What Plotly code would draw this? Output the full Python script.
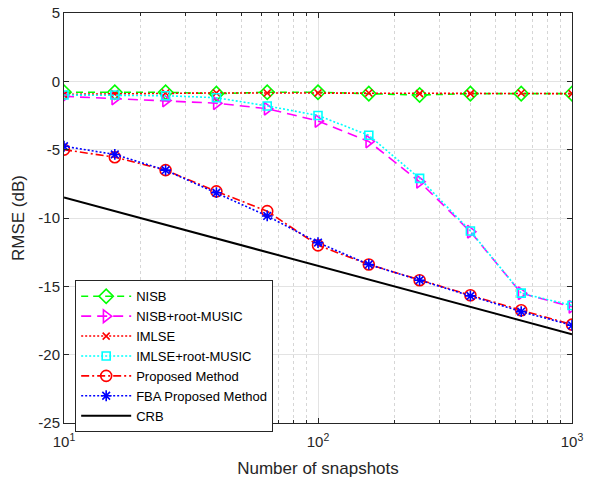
import plotly.graph_objects as go

snapshots = [10, 15.85, 25.12, 39.81, 63.1, 100, 158.5, 251.2, 398.1, 631, 1000]

nisb = [-0.8, -0.8, -0.8, -0.9, -0.8, -0.8, -0.9, -1.0, -0.9, -0.9, -0.9]
nisb_music = [-1.1, -1.25, -1.4, -1.6, -2.0, -2.9, -4.4, -7.35, -11.0, -15.5, -16.5]
imlse = [-0.95, -0.9, -0.85, -0.85, -0.85, -0.85, -0.85, -0.9, -0.9, -0.85, -0.9]
imlse_music = [-1.0, -1.0, -1.05, -1.2, -1.8, -2.5, -3.95, -7.1, -10.95, -15.5, -16.4]
proposed = [-5.0, -5.55, -6.5, -8.05, -9.5, -12.0, -13.4, -14.55, -15.65, -16.75, -17.8]
fba = [-4.75, -5.35, -6.5, -8.15, -9.85, -11.8, -13.4, -14.55, -15.7, -16.85, -17.85]
crb = [-8.5, -9.5, -10.5, -11.5, -12.5, -13.5, -14.5, -15.5, -16.5, -17.5, -18.5]

x_ticks = [10, 100, 1000]
x_tick_text = ["10<sup>1</sup>", "10<sup>2</sup>", "10<sup>3</sup>"]
x_minor = [20, 30, 40, 50, 60, 70, 80, 90, 200, 300, 400, 500, 600, 700, 800, 900]
y_ticks = [5, 0, -5, -10, -15, -20, -25]
y_tick_text = ["5", "0", "-5", "-10", "-15", "-20", "-25"]

FONT = "Liberation Sans, Arial, Helvetica"
TXT = "#262626"

fig = go.Figure()

def add(name, y, color, dash, symbol, size=9, width=1.6):
    fig.add_trace(go.Scatter(
        x=snapshots, y=y, name=name,
        mode="lines+markers" if symbol else "lines",
        line=dict(color=color, dash=dash, width=width),
        marker=dict(symbol=symbol, size=size, color=color,
                    line=dict(color=color, width=1.6)) if symbol else None,
    ))

add("NISB", nisb, "#00ff00", "7px,5px", "diamond-open", 11)
add("NISB+root-MUSIC", nisb_music, "#ff00ff", "10px,6px", "triangle-right-open", 11)
add("IMLSE", imlse, "#ff0000", "2px,2px", "x-thin-open", 7)
add("IMLSE+root-MUSIC", imlse_music, "#00ffff", "2px,2px", "square-open", 8)
add("Proposed Method", proposed, "#ff0000", "8px,3px,2px,3px", "circle-open", 11)
add("FBA Proposed Method", fba, "#0000ff", "2px,2px", "asterisk-open", 9)
add("CRB", crb, "#000000", "solid", None, width=2)

axis_common = dict(
    showline=True, linecolor=TXT, linewidth=1, mirror="ticks",
    ticks="inside", ticklen=5, tickcolor=TXT,
    tickfont=dict(family=FONT, size=15, color=TXT),
    zeroline=False, gridcolor="#e3e3e3", gridwidth=1, automargin=False,
)

fig.update_xaxes(
    type="log", range=[1, 3], tickmode="array", tickvals=x_ticks, ticktext=x_tick_text,
    ticklabelstandoff=5,
    title=dict(text="Number of snapshots", font=dict(family=FONT, size=17, color=TXT), standoff=13),
    minor=dict(tickmode="array", tickvals=x_minor, ticks="inside", ticklen=3, tickcolor=TXT,
               showgrid=True, gridcolor="#d6d6d6", griddash="dot", gridwidth=1),
    **axis_common,
)
fig.update_yaxes(
    range=[-25, 5], tickmode="array", tickvals=y_ticks, ticktext=y_tick_text,
    title=dict(text="RMSE (dB)", font=dict(family=FONT, size=17, color=TXT), standoff=9),
    **axis_common,
)

fig.update_layout(
    width=597, height=478,
    margin=dict(l=64, r=25, t=13, b=55),
    plot_bgcolor="white", paper_bgcolor="white",
    legend=dict(x=0.022, y=0.348, xanchor="left", yanchor="top",
                bgcolor="white", bordercolor=TXT, borderwidth=1,
                font=dict(family=FONT, size=13, color="#000000"),
                tracegroupgap=0, itemwidth=50),
    showlegend=True,
)

fig.write_html("out.html")
